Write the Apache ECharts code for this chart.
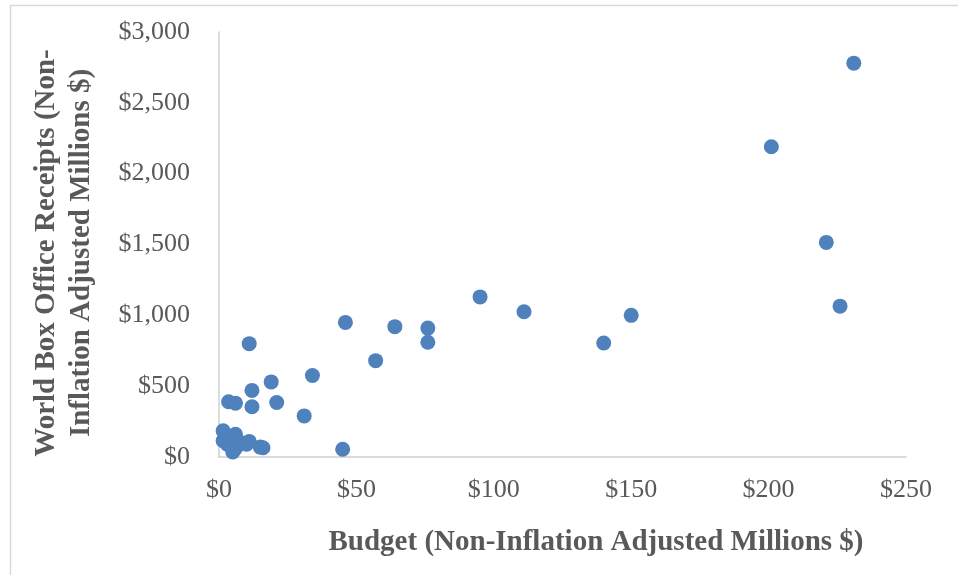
<!DOCTYPE html>
<html><head><meta charset="utf-8">
<script src="https://cdn.jsdelivr.net/npm/echarts@6/dist/echarts.min.js"></script>
<style>html,body{margin:0;padding:0;background:#fff}#c{width:958px;height:575px}</style>
</head><body><div id="c"></div>
<script>
// Budget (millions $)
const budgets = [231, 201, 221, 226, 150, 140, 111, 95, 76, 76, 64, 57, 46, 45, 34, 31, 21, 19, 12, 12, 11, 6, 3.5, 1.5, 6, 1.5, 3, 5, 6, 8, 11, 15, 16, 4, 10];
// World box office (millions $)
const receipts = [2780, 2190, 1515, 1065, 1000, 805, 1025, 1130, 910, 810, 920, 680, 950, 55, 575, 290, 385, 530, 470, 355, 800, 380, 390, 185, 160, 115, 90, 35, 60, 100, 110, 70, 65, 130, 90];
const xTicks = [0, 50, 100, 150, 200, 250];
const yTicks = [0, 500, 1000, 1500, 2000, 2500, 3000];
const xTitle = 'Budget (Non-Inflation Adjusted Millions $)';
const yTitleLines = ['World Box Office Receipts (Non-', 'Inflation Adjusted Millions $)'];

const points = budgets.map((b, i) => [b, receipts[i]]);
const fmt = v => '$' + v.toLocaleString('en-US');
const font = '"Liberation Serif","Times New Roman",serif';
const grey = '#595959';

const chart = echarts.init(document.getElementById('c'));
chart.setOption({
  animation: false,
  textStyle: { fontFamily: font },
  grid: { left: 219, right: 52, top: 32, bottom: 118 },
  xAxis: {
    type: 'value', min: xTicks[0], max: xTicks[xTicks.length - 1], interval: 50,
    splitLine: { show: false },
    axisLine: { show: true, lineStyle: { color: '#d0d0d0', width: 1.5 } },
    axisTick: { show: false },
    axisLabel: { color: grey, fontSize: 26, fontFamily: font, margin: 20, formatter: fmt }
  },
  yAxis: {
    type: 'value', min: yTicks[0], max: yTicks[yTicks.length - 1], interval: 500,
    splitLine: { show: false },
    axisLine: { show: true, lineStyle: { color: '#d0d0d0', width: 1.5 } },
    axisTick: { show: false },
    axisLabel: { color: grey, fontSize: 26, fontFamily: font, margin: 29, formatter: fmt }
  },
  graphic: [
    { type: 'rect', left: 8, top: 3, shape: { width: 960, height: 580 },
      style: { fill: 'none', stroke: '#d9d9d9', lineWidth: 1.5 }, silent: true },
    { type: 'text', x: 596, y: 543,
      style: { text: xTitle, fill: grey, font: 'bold 29px ' + font, align: 'center', verticalAlign: 'middle' } },
    { type: 'text', x: 64, y: 253, rotation: Math.PI / 2,
      style: { text: yTitleLines.join('\n'), fill: grey, font: 'bold 29px ' + font,
        align: 'center', verticalAlign: 'middle', lineHeight: 35 } }
  ],
  series: [{
    type: 'scatter', data: points, symbolSize: 15,
    itemStyle: { color: '#4f81bd', opacity: 1 }
  }]
});
</script></body></html>
